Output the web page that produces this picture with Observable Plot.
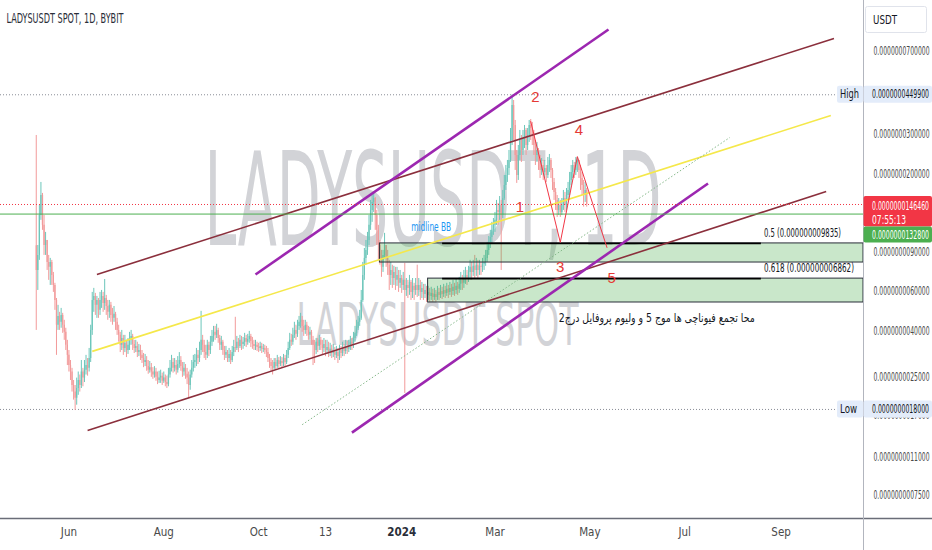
<!DOCTYPE html>
<html><head><meta charset="utf-8">
<script src="https://cdn.jsdelivr.net/npm/d3@7"></script>
<script src="https://cdn.jsdelivr.net/npm/@observablehq/plot@0.6"></script>
<style>
html,body{margin:0;padding:0;background:#fff;}
#chart{width:932px;height:550px;overflow:hidden;}
</style></head><body><div id="chart"></div>
<script>
// ---------- DATA ----------
const UNIT = 1e-10;              // candle prices below are in units of 1e-10 USDT
const firstDay = "2023-05-11";   // date of the first daily candle
const firstOpen = 96;
const closes = [
74.6,87.0,130.9,160.6,118.3,96.3,101.4,81.0,77.0,81.0,
70.9,64.0,54.9,42.6,46.6,43.9,47.1,42.6,39.6,34.7,
31.3,28.2,26.4,23.0,21.5,20.2,22.3,24.2,23.0,26.4,
24.8,26.9,28.2,27.4,30.3,40.4,54.9,57.2,52.2,54.9,
49.6,54.9,57.2,53.2,56.0,51.6,48.6,52.2,47.1,45.7,
47.6,43.9,40.4,38.4,34.7,37.2,33.6,35.4,32.9,34.7,
36.5,38.0,35.0,33.6,34.3,32.2,32.9,31.3,30.3,29.1,
29.7,27.9,26.9,27.6,26.4,25.6,26.4,25.0,24.2,24.8,
25.3,24.0,24.8,23.7,23.2,25.6,27.4,29.1,27.4,28.2,
26.9,28.5,29.7,27.9,26.4,27.4,25.8,24.8,23.0,25.6,
27.4,29.1,29.7,31.3,30.3,32.9,36.5,34.7,32.2,31.3,
34.7,32.9,35.8,38.0,39.6,38.4,40.4,37.2,34.7,35.8,
32.9,31.3,32.2,30.3,31.6,29.7,32.2,33.9,33.6,35.8,
34.3,36.5,35.0,35.8,37.2,35.8,36.8,38.0,36.1,35.0,
34.3,34.7,33.9,33.6,34.3,33.3,33.6,32.9,32.2,30.3,
29.1,27.9,27.4,29.1,27.9,29.7,28.5,29.4,28.8,30.3,
29.1,31.3,33.6,36.5,35.8,38.4,40.4,38.8,42.1,43.9,
44.8,42.1,40.4,42.6,40.4,38.4,39.6,36.5,34.7,32.9,
35.8,34.3,36.5,34.7,33.6,35.0,32.9,33.9,32.2,33.3,
31.9,32.9,31.3,32.2,30.9,32.9,31.9,33.6,32.6,34.3,
33.3,34.7,35.8,34.7,37.2,39.2,41.3,43.9,45.7,54.9,
70.9,84.4,91.6,101.4,118.3,137.8,149.6,155.7,130.9,112.4,
96.3,84.4,77.0,87.0,96.3,84.4,78.7,70.9,74.6,68.7,
73.1,67.4,70.9,65.4,68.7,64.0,67.4,60.8,64.0,62.1,
66.0,59.6,63.4,60.8,64.0,60.8,64.0,59.6,62.1,58.4,
60.8,57.8,59.6,57.2,59.0,56.6,58.4,56.6,59.6,57.8,
60.2,58.4,60.8,59.0,61.5,59.6,62.1,60.2,62.8,60.8,
63.4,61.5,64.7,67.4,65.4,68.7,70.9,68.7,73.1,77.0,
73.1,77.8,74.6,78.7,74.6,77.8,77.0,79.4,81.0,84.4,
91.6,99.4,104.6,112.4,118.3,124.5,137.8,135.0,145.1,130.9,
155.7,177.9,197.1,211.7,229.8,281.9,403.1,328.6,241.8,197.1,
241.8,281.9,254.5,287.6,312.3,267.8,296.7,328.6,318.6,296.7,
267.8,241.8,254.5,229.8,207.5,218.3,203.3,211.7,197.1,218.3,
229.8,207.5,183.5,165.7,152.7,137.8,145.1,135.0,145.1,155.7,
145.1,160.6,169.1,187.3,203.3,218.3,207.5,225.2,229.8,207.5,
191.1,177.9,160.6,169.1,146.46];
const highs = [
296.7,96.3,145.1,183.5,164.0,130.9,110.1,101.4,87.0,84.4,
82.7,73.1,65.4,56.0,52.2,48.6,50.6,48.1,44.8,41.3,
36.5,32.9,29.7,27.4,24.2,23.0,24.8,26.4,25.6,29.7,
27.4,29.7,31.3,30.3,33.6,42.6,59.6,62.1,59.0,57.2,
56.0,59.6,60.8,59.6,68.0,57.8,54.9,54.9,53.8,50.6,
51.6,48.6,45.7,42.6,39.6,40.4,38.4,38.4,36.5,37.2,
39.6,40.4,38.8,36.5,36.5,35.8,35.0,34.7,32.9,31.9,
31.6,30.9,29.7,29.4,28.8,27.6,27.9,27.4,26.4,26.6,
26.9,26.1,26.4,25.6,25.3,27.4,29.7,31.3,30.3,30.3,
29.7,30.9,32.2,30.9,29.1,29.1,28.5,27.4,26.4,26.9,
29.7,31.3,31.6,33.6,32.9,35.8,49.1,38.4,36.5,34.7,
36.5,35.8,38.0,40.4,42.1,42.1,43.0,41.3,38.4,38.0,
36.5,34.3,34.3,32.9,33.6,32.9,34.3,36.5,46.2,38.0,
37.2,38.4,38.0,37.6,39.2,38.4,38.8,40.0,38.8,37.6,
36.5,36.5,35.8,35.4,35.8,35.4,35.0,34.7,34.3,33.6,
31.6,30.3,29.7,30.3,30.3,31.3,30.6,30.9,30.6,31.6,
31.3,32.9,35.8,39.2,38.8,41.3,43.9,42.6,44.8,46.6,
48.1,46.6,44.8,44.8,43.9,42.1,41.7,40.4,38.0,36.5,
37.2,37.2,38.4,37.6,36.5,37.2,36.5,36.5,35.8,35.4,
34.7,35.0,33.9,34.3,33.6,34.7,34.3,35.8,35.0,36.5,
36.1,36.5,38.0,37.2,39.6,42.1,44.8,46.6,49.6,60.8,
81.0,93.4,101.4,110.1,130.9,152.7,160.6,164.0,157.4,137.8,
118.3,101.4,91.6,91.6,109.0,96.3,91.6,82.7,81.0,78.7,
77.8,77.0,77.0,74.6,74.6,70.9,73.1,80.2,68.7,67.4,
70.9,67.4,68.7,65.4,68.7,78.7,68.7,67.4,66.0,64.7,
64.7,63.4,63.4,62.1,62.8,61.5,62.1,60.8,63.4,62.1,
64.0,62.8,64.7,63.4,65.4,64.0,66.0,64.7,67.4,65.4,
68.0,66.0,69.5,73.1,70.9,74.6,77.0,74.6,77.8,82.7,
81.0,82.7,87.0,84.4,82.7,82.7,81.0,84.4,87.0,91.6,
99.4,105.6,112.4,122.0,126.9,135.0,152.7,148.1,158.9,152.7,
169.1,197.1,218.3,229.8,254.5,318.6,449.9,424.3,345.9,254.5,
267.8,312.3,296.7,312.3,328.6,318.6,318.6,345.9,349.4,339.0,
312.3,281.9,276.3,259.6,241.8,234.4,229.8,229.8,218.3,236.9,
244.3,234.4,211.7,191.1,172.5,160.6,155.7,152.7,155.7,169.1,
165.7,172.5,183.5,203.3,218.3,229.8,225.2,236.9,236.9,229.8,
218.3,203.3,187.3,183.5,172.5];
const lows = [
40.4,60.8,82.7,124.5,112.4,87.0,87.0,74.6,67.4,64.0,
64.0,59.6,49.6,31.3,40.4,40.4,41.3,39.2,36.5,32.9,
28.2,26.4,24.2,21.5,19.8,17.8,18.8,20.8,21.5,22.3,
22.7,23.7,25.6,25.3,26.4,29.1,38.4,48.6,47.1,45.7,
45.7,47.1,50.6,48.6,49.6,47.1,44.8,45.7,43.9,42.6,
43.9,40.4,38.4,35.8,32.2,32.9,31.3,32.2,30.6,31.6,
32.9,34.7,32.9,31.9,32.2,30.6,30.9,29.7,28.8,27.6,
27.9,26.6,25.8,26.1,25.0,24.5,24.8,24.0,23.2,23.5,
23.5,23.0,23.5,22.7,22.3,22.7,24.8,26.4,26.1,26.4,
25.6,26.1,27.4,26.6,25.0,25.3,24.5,23.2,20.2,21.9,
24.8,26.4,27.4,27.9,28.5,29.1,31.3,32.2,30.3,29.7,
30.3,30.9,31.6,34.3,35.8,36.5,37.2,35.4,32.9,32.9,
31.3,29.7,30.3,29.1,29.1,28.5,29.1,30.9,32.2,32.9,
32.2,33.6,32.9,33.3,34.3,33.9,34.7,35.4,33.9,33.3,
32.9,32.9,32.6,32.2,32.6,31.9,32.2,31.6,30.6,29.1,
27.4,26.4,25.6,26.9,26.9,27.4,27.4,27.9,27.4,27.9,
27.9,28.5,30.3,32.9,34.3,34.7,37.2,36.5,37.6,40.4,
41.3,39.6,38.0,38.8,38.0,36.5,36.5,34.7,28.2,28.8,
31.6,32.2,32.9,32.9,31.3,32.2,30.9,31.6,30.6,30.9,
30.3,30.6,29.7,30.3,28.8,29.7,30.3,30.9,30.9,31.6,
31.6,32.2,32.9,32.9,33.6,35.8,38.0,40.4,42.1,44.8,
53.8,67.4,78.7,87.0,96.3,112.4,122.0,135.0,112.4,96.3,
82.7,78.7,69.5,73.1,84.4,77.0,70.9,60.8,64.0,62.1,
64.0,60.8,63.4,59.6,62.1,59.0,60.8,21.2,57.2,56.0,
57.8,54.9,56.0,54.9,57.8,56.6,57.2,54.9,56.0,54.9,
56.0,53.8,54.9,53.8,54.9,53.8,54.9,53.8,54.9,54.9,
56.0,55.4,56.6,56.0,57.2,56.0,57.8,56.6,57.8,57.2,
58.4,57.8,59.0,60.8,60.8,62.1,64.7,64.0,66.0,67.4,
67.4,70.2,68.7,70.2,68.7,70.9,70.9,73.1,74.6,77.8,
81.0,87.0,93.4,97.3,106.8,110.1,118.3,118.3,124.5,74.6,
126.9,152.7,169.1,183.5,197.1,225.2,267.8,281.9,207.5,181.7,
187.3,229.8,225.2,241.8,259.6,241.8,254.5,276.3,281.9,267.8,
241.8,218.3,225.2,207.5,191.1,197.1,187.3,191.1,183.5,191.1,
203.3,191.1,169.1,152.7,137.8,128.3,130.9,128.3,130.9,137.8,
135.0,137.8,152.7,160.6,177.9,191.1,191.1,197.1,203.3,191.1,
169.1,160.6,142.6,149.6,142.6];

// axes
const xTickDates = ["2023-06-01","2023-08-01","2023-10-01","2023-11-13","2024-01-01","2024-03-01","2024-05-01","2024-07-01","2024-09-01"];
const xTickLabels = ["Jun","Aug","Oct","13","2024","Mar","May","Jul","Sep"];
const yTicks = [7e-8, 3e-8, 2e-8, 9e-9, 6e-9, 4e-9, 2.5e-9, 1.7e-9, 1.1e-9, 7.5e-10];
const yTickLabels = ["0.0000000700000","0.0000000300000","0.0000000200000","0.0000000090000","0.0000000060000","0.0000000040000","0.0000000025000","0.0000000017000","0.0000000011000","0.0000000007500"];

// drawn trend / channel lines (start & end points)
const channelNames = ["purpleUpper","purpleLower","brownUpper","brownLower","yellowMid","dottedGuide"];
const channelStartDates = ["2023-09-29","2023-11-30","2023-06-19","2023-06-13","2023-06-16","2023-10-29"];
const channelStartPrices = [7.16e-9, 1.42e-9, 7.16e-9, 1.45e-9, 3.26e-9, 1.54e-9];
const channelEndDates = ["2024-05-13","2024-07-16","2024-10-05","2024-09-30","2024-10-03","2024-07-30"];
const channelEndPrices = [8.77e-8, 1.815e-8, 8.0e-8, 1.672e-8, 3.64e-8, 2.906e-8];

// Elliott wave sketch
const waveDates = ["2024-03-24","2024-04-12","2024-04-23","2024-05-12"];
const wavePrices = [3.42e-8, 9.94e-9, 2.39e-8, 9.44e-9];
const waveLabels = ["1","2","3","4","5"];
const waveLabelDates = ["2024-03-17","2024-03-27","2024-04-12","2024-04-24","2024-05-15"];
const waveLabelPrices = [1.422e-8, 4.376e-8, 7.70e-9, 3.123e-8, 6.87e-9];

// fibonacci levels and zones
const fibLevels = [9.835e-9, 6.862e-9];
const fibLabels = ["0.5 (0.000000009835)", "0.618 (0.000000006862)"];
const fibLineStart = "2024-01-27";
const fibLineEnd = "2024-08-19";
const fibLabelDate = "2024-08-21";
const zoneStartDates = ["2023-12-18","2024-01-18"];
const zoneEndDate = "2024-10-24";
const zoneTop = [9.835e-9, 6.862e-9];
const zoneBottom = [8.09e-9, 5.375e-9];

// reference levels
const allTimeHigh = 4.499e-8, allTimeLow = 1.8e-9;
const lastPrice = 1.4646e-8, greenLevel = 1.328e-8;
const highLabel = "0.0000000449900", lowLabel = "0.0000000018000";
const lastLabel = "0.0000000146460", greenLabel = "0.0000000132800", countdown = "07:55:13";

// texts
const title = "LADYSUSDT SPOT, 1D, BYBIT";
const watermarkMain = "LADYSUSDT, 1D";
const watermarkSub = "LADYSUSDT SPOT";
const midlineText = "midline BB", midlineDate = "2024-01-20", midlinePrice = 1.159e-8;
const noteText = "محا تجمع فیوناچی ها موج 5 و ولیوم پروفایل درج2", noteDate = "2024-06-13", notePrice = 4.57e-9;

// ---------- BUILD ----------
const FONT = "'Liberation Sans Narrow','DejaVu Sans Condensed','Roboto Condensed',sans-serif";
const UP = "#6cc6ba", DOWN = "#f29a9a";
const day0 = new Date(firstDay + "T00:00:00Z");
const candles = closes.map((c, i) => ({
  date: new Date(day0.getTime() + i * 864e5),
  open: (i === 0 ? firstOpen : closes[i - 1]) * UNIT,
  close: c * UNIT, high: highs[i] * UNIT, low: lows[i] * UNIT
}));
const D = s => new Date(s + "T00:00:00Z");
const candleColor = d => d.close >= d.open ? UP : DOWN;
const xLabelFor = d => { const i = xTickDates.findIndex(t => Math.abs(+D(t) - +d) < 864e5 / 2); return i < 0 ? "" : xTickLabels[i]; };

function channel(i, opts) {
  return Plot.link([i], {
    x1: j => D(channelStartDates[j]), y1: j => channelStartPrices[j],
    x2: j => D(channelEndDates[j]), y2: j => channelEndPrices[j], ...opts
  });
}

const plot = Plot.plot({
  width: 932, height: 550,
  marginTop: 0, marginRight: 69, marginBottom: 32, marginLeft: 0,
  style: {background: "#ffffff", fontFamily: FONT, fontSize: "11px", color: "#4a4a4a"},
  x: {type: "utc", domain: [D("2023-04-18"), D("2024-10-24")], axis: null},
  y: {type: "log", domain: [5.9e-10, 1.18e-7], axis: null},
  marks: [
    Plot.text([watermarkMain], {frameAnchor: "middle", dx: 1, dy: -56, fontSize: 130, fill: "#d2d3d7", fontFamily: FONT}),
    Plot.text([watermarkSub], {frameAnchor: "middle", dx: 5.5, dy: 67, fontSize: 58, fill: "#d2d3d7", fontFamily: FONT}),
    Plot.ruleY([allTimeHigh, allTimeLow], {stroke: "#8a8d96", strokeDasharray: "1,2", strokeWidth: 1}),
    Plot.ruleX(candles, {x: "date", y1: "low", y2: "high", stroke: candleColor, strokeWidth: 1}),
    Plot.ruleX(candles, {x: "date", y1: "open", y2: "close", stroke: candleColor, strokeWidth: 1.3}),
    Plot.rect([0, 1], {x1: i => D(zoneStartDates[i]), x2: () => D(zoneEndDate), y1: i => zoneBottom[i], y2: i => zoneTop[i],
      fill: "#4caf50", fillOpacity: 0.3, stroke: "#2a2e39", strokeWidth: 1}),
    Plot.link([0, 1], {x1: () => D(fibLineStart), x2: () => D(fibLineEnd), y1: i => fibLevels[i], y2: i => fibLevels[i],
      stroke: "#000", strokeWidth: 1.7}),
    Plot.text([0, 1], {x: () => D(fibLabelDate), y: i => fibLevels[i], text: i => fibLabels[i], textAnchor: "start",
      dy: -10.5, fontSize: 12, fill: "#131722", fontFamily: FONT}),
    channel(2, {stroke: "#8b2f3c", strokeWidth: 1.6}),
    channel(3, {stroke: "#8b2f3c", strokeWidth: 1.6}),
    channel(4, {stroke: "#f5e84a", strokeWidth: 1.6}),
    channel(5, {stroke: "#86b98a", strokeWidth: 1, strokeDasharray: "1.5,2"}),
    channel(0, {stroke: "#9c27b0", strokeWidth: 2.6}),
    channel(1, {stroke: "#9c27b0", strokeWidth: 2.6}),
    Plot.ruleY([lastPrice], {stroke: "#f23645", strokeDasharray: "1,2", strokeWidth: 1}),
    Plot.ruleY([greenLevel], {stroke: "#4caf50", strokeWidth: 1}),
    Plot.line(waveDates.map((d, i) => i), {x: i => D(waveDates[i]), y: i => wavePrices[i], stroke: "#f23645", strokeWidth: 1}),
    Plot.text(waveLabels.map((d, i) => i), {x: i => D(waveLabelDates[i]), y: i => waveLabelPrices[i], text: i => waveLabels[i],
      fontSize: 15, fill: "#e53935", fontFamily: "'Liberation Sans',sans-serif"}),
    Plot.text([midlineText], {x: () => D(midlineDate), y: () => midlinePrice, fontSize: 12, fill: "#2196f3", fontFamily: FONT}),
    Plot.text([noteText], {x: () => D(noteDate), y: () => notePrice, fontSize: 12, fill: "#131722", fontFamily: "'DejaVu Sans',sans-serif"}),
    Plot.text([title], {frameAnchor: "top-left", lineAnchor: "middle", textAnchor: "start", dx: 6, dy: 18, fontSize: 14, fill: "#2a2e39", fontFamily: FONT}),
    Plot.axisX({ticks: xTickDates.map(D), tickFormat: xLabelFor, tickSize: 0, tickPadding: 9, fontSize: 11.5, label: null}),
    // right price scale labels, placed through the y scale
    Plot.text(yTicks.map((t, i) => i), {y: i => yTicks[i], text: i => yTickLabels[i], frameAnchor: "right", textAnchor: "start",
      dx: 10, fontSize: 11.5, fill: "#4a4a4a", fontFamily: FONT})
  ]
});
document.getElementById("chart").append(plot);

// ---------- FINISHING (price-scale tags, separators) ----------
const svg = d3.select(plot);
const yS = plot.scale("y");
const lengths = new Map([[title, 117], [watermarkMain, 457], [watermarkSub, 282], [fibLabels[0], 77], [fibLabels[1], 90], [midlineText, 40], [noteText, 196]]);
yTickLabels.forEach(t => lengths.set(t, 56));
svg.selectAll("text").each(function () {
  const L = lengths.get(this.textContent);
  if (L) { this.setAttribute("textLength", L); this.setAttribute("lengthAdjust", "spacingAndGlyphs"); }
  if (this.textContent === "2024") { this.setAttribute("font-weight", "bold"); this.setAttribute("fill", "#2a2e39"); }
});

const g = svg.append("g").attr("font-family", FONT).attr("font-size", 11.5).attr("text-anchor", "start");
g.append("line").attr("x1", 0).attr("x2", 932).attr("y1", 518.5).attr("y2", 518.5).attr("stroke", "#6a6d78").attr("stroke-width", 1.5);
g.append("line").attr("x1", 863.5).attr("x2", 863.5).attr("y1", 0).attr("y2", 550).attr("stroke", "#b2b5be").attr("stroke-width", 1);
function box(x, y, w, h, fill, stroke) {
  g.append("rect").attr("x", x).attr("y", y).attr("width", w).attr("height", h).attr("rx", 2)
    .attr("fill", fill).attr("stroke", stroke || "none");
}
function label(x, y, s, fill, len) {
  const t = g.append("text").attr("x", x).attr("y", y).attr("dy", "0.35em").attr("text-anchor", "start").attr("fill", fill).text(s);
  if (len) t.attr("textLength", len).attr("lengthAdjust", "spacingAndGlyphs");
}
box(865.5, 6.5, 61, 26, "#fff", "#e0e3eb");
label(873, 20, "USDT", "#131722", 24);
[[allTimeHigh, "High", highLabel], [allTimeLow, "Low", lowLabel]].forEach(([v, name, txt]) => {
  const y = yS.apply(v);
  box(837, y - 8.5, 26, 17, "#e3ecfa");
  label(840, y, name, "#131722", name === "High" ? 19 : 17);
  box(863.5, y - 8.5, 68.5, 17, "#e3ecfa");
  label(872, y, txt, "#131722", 57);
});
const yR = yS.apply(lastPrice);
box(863.5, yR - 8, 68.5, 30.5, "#f23645");
label(872, yR + 2, lastLabel, "#fff", 57);
label(872, yR + 16, countdown, "#fff", 34);
box(863.5, yR + 22.5, 68.5, 16, "#4caf50");
label(872, yR + 30.5, greenLabel, "#fff", 57);
</script></body></html>
